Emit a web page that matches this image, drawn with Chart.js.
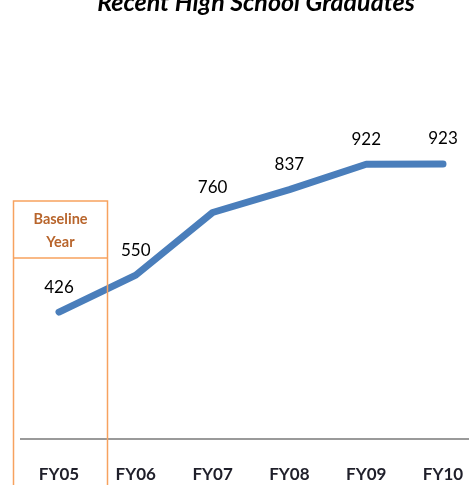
<!DOCTYPE html>
<html>
<head>
<meta charset="utf-8">
<script src="https://cdn.jsdelivr.net/npm/chart.js@4"></script>
<style>
  html, body { margin: 0; padding: 0; background: #ffffff; }
  #wrap { position: relative; width: 469px; height: 485px; overflow: hidden; background: #fff; }
  #c { position: absolute; left: 0; top: -20px; }
</style>
</head>
<body>
<div id="wrap"><canvas id="c" width="512" height="505"></canvas></div>
<script>
const categories = ['FY05', 'FY06', 'FY07', 'FY08', 'FY09', 'FY10'];
const graduates = [426, 550, 760, 837, 922, 923];
const chartTitle = 'Recent High School Graduates';
const baselineLabel = ['Baseline', 'Year'];
const baselineCategory = 'FY05';

const dataLabels = {
  id: 'dataLabels',
  afterDatasetsDraw(chart) {
    const ctx = chart.ctx;
    const meta = chart.getDatasetMeta(0);
    ctx.save();
    ctx.font = '17px Lato';
    ctx.fillStyle = '#000000';
    ctx.textAlign = 'center';
    ctx.textBaseline = 'middle';
    meta.data.forEach((pt, i) => {
      ctx.fillText(String(graduates[i]), pt.x, pt.y - 25);
    });
    ctx.restore();
  }
};

const baselineBox = {
  id: 'baselineBox',
  afterDatasetsDraw(chart) {
    const ctx = chart.ctx;
    const xs = chart.scales.x;
    const cx = xs.getPixelForValue(categories.indexOf(baselineCategory));
    const ca = chart.chartArea;
    const left = cx - 45.5, right = cx + 48.5;
    const top = ca.top + 60, divider = ca.top + 117;
    const bottom = chart.height + 5;
    ctx.save();
    ctx.strokeStyle = '#f7a25f';
    ctx.lineWidth = 1.5;
    ctx.beginPath();
    ctx.moveTo(left, bottom);
    ctx.lineTo(left, top);
    ctx.lineTo(right, top);
    ctx.lineTo(right, bottom);
    ctx.moveTo(left, divider);
    ctx.lineTo(right, divider);
    ctx.stroke();
    ctx.font = 'bold 14.5px Lato';
    ctx.fillStyle = '#b8652c';
    ctx.textAlign = 'center';
    ctx.textBaseline = 'middle';
    const mid = (left + right) / 2;
    ctx.fillText(baselineLabel[0], mid, top + 18);
    ctx.fillText(baselineLabel[1], mid, top + 41);
    ctx.restore();
  }
};

new Chart(document.getElementById('c'), {
  type: 'line',
  data: {
    labels: categories,
    datasets: [{
      data: graduates,
      borderColor: '#4a7ebb',
      borderWidth: 7,
      borderCapStyle: 'round',
      borderJoinStyle: 'round',
      pointRadius: 0,
      tension: 0,
      fill: false
    }]
  },
  options: {
    responsive: false,
    animation: false,
    devicePixelRatio: 1,
    layout: { padding: { left: 20.6, right: 20.6, top: 0, bottom: 0 } },
    plugins: {
      legend: { display: false },
      tooltip: { enabled: false },
      title: {
        display: true,
        text: chartTitle,
        color: '#000000',
        font: { family: 'Lato', size: 25, weight: 'bold', style: 'italic' },
        padding: { top: 8, bottom: 123 }
      }
    },
    scales: {
      x: {
        type: 'category',
        offset: true,
        grid: { display: false, drawTicks: false },
        border: { display: true, color: '#9a9a9a', width: 2 },
        ticks: {
          color: '#1f1f2a',
          font: { family: 'Lato', size: 17, weight: 'bold' },
          padding: 25,
          maxRotation: 0,
          autoSkip: false
        },
        afterFit(s) { s.height = 46; }
      },
      y: {
        position: 'right',
        min: 0,
        max: 1000,
        grid: { display: false, drawTicks: false },
        border: { display: false },
        ticks: { display: false },
        afterFit(s) { s.width = 10; }
      }
    }
  },
  plugins: [dataLabels, baselineBox]
});
</script>
</body>
</html>
